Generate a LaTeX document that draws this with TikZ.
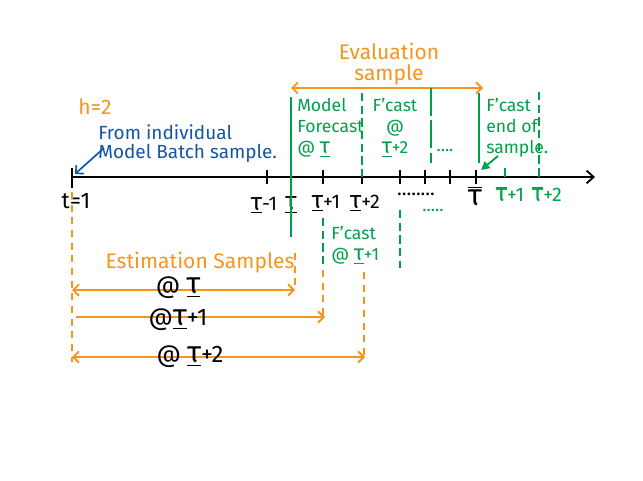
\documentclass[tikz,border=0pt]{standalone}
\usepackage{fontspec}
\setmainfont{Fira Sans}
\usetikzlibrary{arrows.meta}

\definecolor{hlorange}{RGB}{247,148,29}
\definecolor{hlgreen}{RGB}{0,160,75}
\definecolor{hlblue}{RGB}{20,85,165}

\newcommand{\taul}{\underline{\scalebox{1.25}{τ}}}
\newcommand{\taub}{$\overline{\mbox{\scalebox{1.25}{τ}}}$}

\tikzset{
  axisline/.style={line width=1.3pt, -{Straight Barb[length=5pt,width=9pt]}},
  tickmark/.style={line width=1.3pt},
  greenline/.style={hlgreen, line width=1.3pt},
  greendash/.style={hlgreen, line width=1.3pt, dash pattern=on 6pt off 3pt},
  greenlong/.style={hlgreen, line width=1.3pt, dash pattern=on 20pt off 3pt},
  orangedash/.style={hlorange, line width=1.3pt, dash pattern=on 5pt off 4pt},
  orangearrow/.style={hlorange, line width=1.3pt, {Straight Barb[length=4pt,width=8pt]}-{Straight Barb[length=4pt,width=8pt]}},
  orangeto/.style={hlorange, line width=1.3pt, -{Straight Barb[length=4pt,width=8pt]}},
  bigtext/.style={font=\fontsize{15}{15}\selectfont, inner sep=0pt},
  greentext/.style={hlgreen, font=\fontsize{12.5}{15}\selectfont, inner sep=0pt, align=left},
  ticklabel/.style={font=\fontsize{14}{14}\selectfont, inner sep=0pt}
}

\begin{document}
\begin{tikzpicture}[x=0.025cm, y=-0.025cm]
\useasboundingbox (0,0) rectangle (643,480);

\def\ya{177}
\def\xo{72}
\def\xm{267}
\def\xt{291}
\def\xp{323}
\def\xq{362}
\def\xr{400}
\def\xs{425}
\def\xu{450}
\def\xb{476}
\def\xc{505}
\def\xd{539}

% time axis
\coordinate (o) at (\xo,\ya);
\coordinate (ax) at (595,\ya);
\draw[axisline] (o) -- (ax);
\draw[tickmark] (\xo,168) -- (\xo,188);
\foreach \x in {\xm,\xt,\xp,\xq,\xr,\xs,\xu,\xb}
  \draw[tickmark] (\x,\ya-7) -- (\x,\ya+7);
\foreach \x in {\xc,\xd}
  \draw[greenline] (\x,168) -- (\x,\ya);

\node[ticklabel, font=\fontsize{16}{16}\selectfont] (t1) at (76,201) {t=1};
\node[ticklabel] (tm) at (264,205) {\taul-1};
\node[ticklabel] (tt) at (291,205) {\taul};
\node[ticklabel] (tp) at (326,203) {\taul+1};
\node[ticklabel] (tq) at (365,203) {\taul+2};
\node[ticklabel] (dots) at (416,194) {........};
\node[ticklabel, font=\fontsize{17}{17}\selectfont] (tb) at (475,196) {\taub};
\node[ticklabel, hlgreen] (tc) at (510,194) {\taub+1};
\node[ticklabel, hlgreen] (td) at (547,194) {\taub+2};

% batch sample
\node[hlblue, font=\fontsize{13.5}{14}\selectfont, inner sep=0pt, align=left, anchor=north west] (batch) at (98,124) {From individual\\Model Batch sample.};
\coordinate (ba) at (104,148);
\coordinate (bb) at (75,174);
\draw[hlblue, line width=1.2pt, -{Straight Barb[length=4pt,width=8pt]}] (ba) -- (bb);
\node[bigtext, hlorange] (h) at (95,107) {h=2};

% evaluation sample
\node[bigtext, hlorange, align=center] (ev) at (389,64) {Evaluation\\sample};
\coordinate (ea) at (\xt,88);
\coordinate (eb) at (483,88);
\draw[orangearrow] (ea) -- (eb);

\draw[greenline] (\xt,97) -- (\xt,237);
\draw[greendash] (\xq,93) -- (\xq,\ya);
\draw[greenlong] (431,88) -- (431,163);
\draw[greenline] (479,93) -- (479,163);
\draw[greendash] (\xd,92) -- (\xd,\ya);
\draw[greendash] (\xp,218) -- (\xp,268);
\draw[greendash] (\xr,210) -- (\xr,268);

\node[greentext, anchor=north west] (mf) at (297,98) {Model\\Forecast\\@ \taul};
\node[greentext, align=center, anchor=north] (f2) at (395,98) {F'cast\\@\\\taul+2};
\node[greentext] (gd) at (445,150) {....};
\node[greentext] (gd2) at (433,210) {.....};
\node[greentext, anchor=north west] (fe) at (486,98) {F'cast\\end of\\sample.};
\node[greentext, anchor=north west] (f1) at (331,226) {F'cast\\@ \taul+1};
\coordinate (ga) at (498,156);
\coordinate (gb) at (481,170);
\draw[greenline, -{Triangle[length=6pt,width=6pt]}] (ga) -- (gb);

% estimation samples
\draw[orangedash] (\xo,192) -- (\xo,362);
\draw[orangedash] (295,253) -- (295,290);
\draw[orangedash] (\xp,270) -- (\xp,315);
\draw[orangedash] (364,272) -- (364,357);
\node[bigtext, hlorange] (es) at (200,263) {Estimation Samples};

\coordinate (e1a) at (\xo,290);
\coordinate (e1b) at (295,290);
\draw[orangearrow] (e1a) -- (e1b);
\coordinate (e2a) at (\xo+4,317);
\coordinate (e2b) at (\xp+2,317);
\draw[orangeto] (e2a) -- (e2b);
\coordinate (e3a) at (\xo,357);
\coordinate (e3b) at (365,357);
\draw[orangearrow] (e3a) -- (e3b);

\node[bigtext, font=\fontsize{17}{17}\selectfont] (l1) at (178,288) {@ \taul};
\node[bigtext, font=\fontsize{17}{17}\selectfont] (l2) at (178,320) {@\taul+1};
\node[bigtext, font=\fontsize{17}{17}\selectfont] (l3) at (190,357) {@ \taul+2};

\end{tikzpicture}
\end{document}
